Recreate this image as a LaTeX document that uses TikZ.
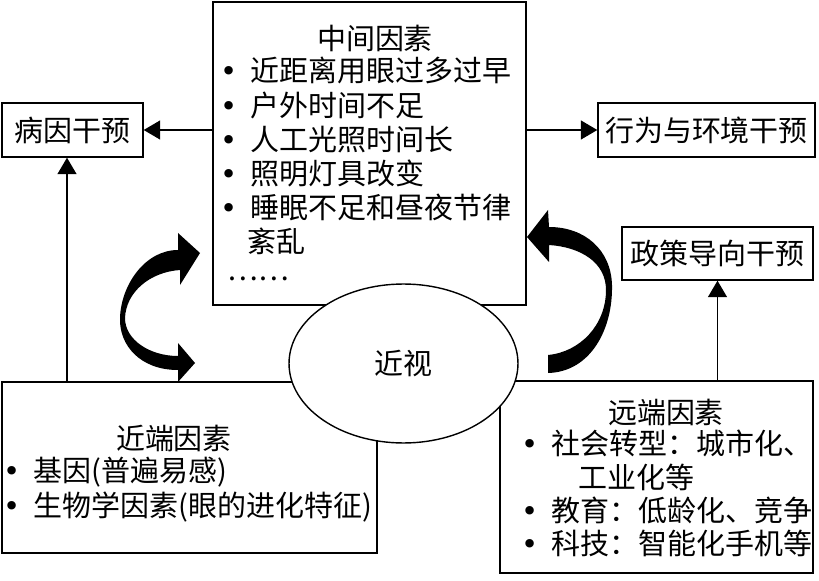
\documentclass[tikz,border=0pt]{standalone}
\usepackage{fontspec}
\setmainfont{Noto Sans CJK SC}
\newfontfamily\dotfont{DejaVu Sans}
\usetikzlibrary{shapes.geometric, arrows.meta}

\newcommand{\itm}{\makebox[1.03em][l]{\dotfont •}}

\tikzset{
  box/.style={draw, thick, rectangle, inner sep=0pt},
  txt/.style={font=\fontsize{16.5}{19.4}\selectfont, inner sep=0pt},
  lst/.style={txt, align=left, anchor=north west},
  arr/.style={thick, -{Triangle[length=0.33cm, width=0.38cm]}},
}

\begin{document}
\begin{tikzpicture}[x=0.02cm, y=-0.02cm]
    \useasboundingbox (0, 0) rectangle (819, 581);

    % middle factors
    \node[box, minimum width=6.26cm, minimum height=6.06cm] (mid) at (369.5, 153.5) {};
    \node[txt] (midT) at (375, 38) {中间因素};
    \node[lst, font=\fontsize{16.5}{19.45}\selectfont] (midL) at (220, 57) {%
      \itm 近距离用眼过多过早\\
      \itm 户外时间不足\\
      \itm 人工光照时间长\\
      \itm 照明灯具改变\\
      \itm 睡眠不足和昼夜节律\\
      \hspace*{0.93em}紊乱\\
      \hspace*{0.24em}\raisebox{0.22em}{……}};

    % interventions
    \node[box, txt, minimum width=2.82cm, minimum height=1.08cm] (etio) at (72.5, 130) {病因干预};
    \node[box, txt, minimum width=4.34cm, minimum height=1.08cm] (behav) at (706.5, 130) {行为与环境干预};
    \node[box, txt, minimum width=3.82cm, minimum height=1.06cm] (pol) at (717.5, 253.5) {政策导向干预};

    % proximal factors
    \node[box, minimum width=7.5cm, minimum height=3.42cm] (prox) at (189.5, 467.5) {};
    \node[txt] (proxT) at (174, 438) {近端因素};
    \node[lst, font=\fontsize{16.5}{19.9}\selectfont] (proxL) at (3.5, 457) {%
      \itm 基因(普遍易感)\\
      \itm 生物学因素(眼的进化特征)};

    % distal factors
    \node[box, minimum width=6.26cm, minimum height=3.84cm] (dist) at (656.5, 477) {};
    \node[txt] (distT) at (666, 412) {远端因素};
    \node[lst, font=\fontsize{16.5}{18.95}\selectfont] (distL) at (521, 430) {%
      \itm 社会转型：城市化、\\
      \hspace*{1.97em}工业化等\\
      \itm 教育：低龄化、竞争\\
      \itm 科技：智能化手机等};

    % straight arrows
    \draw[arr] (mid.west |- etio) -- (etio);
    \draw[arr] (mid.east |- behav) -- (behav);
    \draw[arr] ([xshift=-0.11cm]prox.north -| etio) -- ([xshift=-0.11cm]etio.south);
    \draw[arr] (dist.north -| pol) -- (pol);

    % curved arrows
    \fill (178,233) -- (200,253) -- (180,285) -- (180,270)
      .. controls (150,272) and (126,292) .. (125,318)
      .. controls (125,340) and (150,356) .. (178,356)
      -- (178,343) -- (195,363) -- (178,382) -- (178,370)
      .. controls (140,370) and (119,345) .. (120,318)
      .. controls (121,285) and (145,250) .. (178,250) -- cycle;
    \fill (548,210) -- (527,237) -- (549,262) -- (549,245)
      .. controls (580,247) and (606,262) .. (606,290)
      .. controls (606,325) and (580,352) .. (548,355)
      -- (548,373)
      .. controls (590,372) and (613,330) .. (612,285)
      .. controls (611,250) and (585,227) .. (549,227) -- cycle;

    % myopia
    \node[draw, thick, ellipse, fill=white, txt, minimum width=4.58cm, minimum height=3.18cm] (myo) at (403.5, 363.5) {近视};
\end{tikzpicture}
\end{document}
